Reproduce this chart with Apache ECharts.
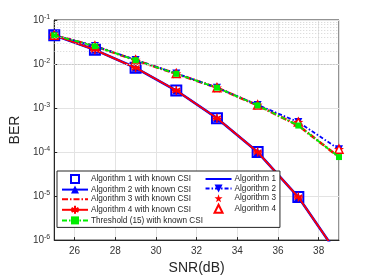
<!DOCTYPE html>
<html>
<head>
<meta charset="utf-8">
<script src="https://cdn.jsdelivr.net/npm/echarts@6/dist/echarts.min.js"></script>
<style>html,body{margin:0;padding:0;background:#fff}#c{width:374px;height:280px}</style>
</head>
<body>
<div id="c"></div>
<script>
var snr = [25, 27, 29, 31, 33, 35, 37, 39];
var knownBER = [0.045, 0.021, 0.0082, 0.0025, 5.9e-4, 1.0e-4, 9.5e-6, 4.3e-7];
var estBER = [0.045, 0.0257, 0.0124, 0.0061, 0.0029, 0.00118, 4.8e-4, 1.16e-4];
var thresholdBER = [0.045, 0.0255, 0.0122, 0.006, 0.0029, 0.00115, 4.0e-4, 7.7e-5];
var minorGrid = [];
[-2, -3, -4, -5, -6].forEach(function (e) {
  for (var m = 2; m <= 9; m++) minorGrid.push(m * Math.pow(10, e));
});
var xTicks = [26, 28, 30, 32, 34, 36, 38];

function pairs(ys) { return snr.map(function (x, i) { return [x, ys[i]]; }); }

var BLUE = '#0000ff', RED = '#ff0000', GREEN = '#00ee00';
var STAR = 'path://M0,-10L2.35,-3.24L9.51,-3.09L3.8,1.24L5.88,8.09L0,4L-5.88,8.09L-3.8,1.24L-9.51,-3.09L-2.35,-3.24Z';
var ASTER = 'path://M0,-10L0,10M-8.66,-5L8.66,5M-8.66,5L8.66,-5M-10,0L10,0';
var NOSYM = 'path://M0,0L0.01,0L0.01,0.01Z';

var chart = echarts.init(document.getElementById('c'), null, {renderer: 'canvas'});
var font = 'Liberation Sans, Arial, sans-serif';

function S(name, data, o) {
  var sym = o.symbol || NOSYM;
  return {
    name: name, type: 'line', data: pairs(data), clip: true,
    symbol: sym, symbolSize: o.symbol ? (o.size || 8) : 0.01, symbolRotate: o.rot || 0,
    showSymbol: !!o.symbol,
    lineStyle: {color: o.color, width: o.lw === undefined ? 1.8 : o.lw, type: o.type || 'solid'},
    itemStyle: {color: o.symbol ? (o.fill || o.color) : 'rgba(0,0,0,0)', borderColor: o.color, borderWidth: o.symbol ? (o.bw || 0) : 0},
    emphasis: {disabled: true}, animation: false, z: o.z || 2
  };
}

var series = [
  S('Algorithm 1 with known CSI', knownBER, {color: BLUE, symbol: 'rect', size: 10, fill: 'rgba(0,0,0,0)', bw: 2, lw: 0}),
  S('Algorithm 2 with known CSI', knownBER, {color: BLUE, symbol: 'triangle', size: 8, lw: 2.6}),
  S('Algorithm 3 with known CSI', thresholdBER, {color: RED, type: [6, 2, 1.5, 2], lw: 2.6}),
  S('Algorithm 4 with known CSI', knownBER, {color: RED, symbol: ASTER, size: 9, bw: 1.5, lw: 1.8, z: 3}),
  S('Threshold (15) with known CSI', thresholdBER, {color: GREEN, symbol: 'rect', size: 6, type: [5, 2, 1.5, 2], lw: 1.8, z: 4}),
  S('Algorithm 1', knownBER, {color: BLUE, lw: 1.4}),
  S('Algorithm 2', estBER, {color: BLUE, symbol: 'triangle', rot: 180, size: 8, type: [4, 2, 1.5, 2], lw: 1.8}),
  S('Algorithm 3', estBER, {color: RED, symbol: STAR, size: 10, lw: 0}),
  S('Algorithm 4', estBER, {color: RED, symbol: 'triangle', size: 8, fill: '#ffffff', bw: 1.5, lw: 0})
];
series.push({
  type: 'line', data: [], silent: true, animation: false,
  markLine: {
    silent: true, symbol: 'none', animation: false, label: {show: false},
    lineStyle: {color: '#c8c8c8', type: [1, 2], width: 0.8},
    data: minorGrid.map(function (v) { return {yAxis: v}; })
  }
});

chart.setOption({
  backgroundColor: '#fff',
  animation: false,
  grid: {left: 48, right: 35, top: 20, bottom: 34, show: true, borderColor: '#262626', borderWidth: 1, backgroundColor: 'transparent'},
  xAxis: {
    type: 'value', min: 25, max: 39, splitNumber: 7,
    axisLine: {show: true, lineStyle: {color: '#262626'}},
    axisTick: {show: true, inside: true, length: 3, lineStyle: {color: '#262626'}},
    axisLabel: {
      color: '#333', fontSize: 10, fontFamily: font, margin: 6,
      showMinLabel: false, showMaxLabel: false,
      formatter: function (v) { return xTicks.indexOf(v) >= 0 ? String(v) : ''; }
    },
    splitLine: {show: true, lineStyle: {color: '#e3e3e3', width: 1}},
    name: 'SNR(dB)', nameLocation: 'middle', nameGap: 20,
    nameTextStyle: {fontSize: 14, color: '#262626', fontFamily: font}
  },
  yAxis: {
    type: 'log', logBase: 10, min: 1e-6, max: 0.1,
    axisLine: {show: true, lineStyle: {color: '#262626'}},
    axisTick: {show: true, inside: true, length: 3, lineStyle: {color: '#262626'}},
    axisLabel: {
      color: '#333', fontFamily: font, margin: 4,
      formatter: function (v) {
        var e = Math.round(Math.log10(v));
        return '{b|10}{s|' + e + '}';
      },
      rich: {
        b: {fontSize: 10, fontFamily: font, color: '#333'},
        s: {fontSize: 7, fontFamily: font, color: '#333', verticalAlign: 'top', padding: [0, 0, 6, 0]}
      }
    },
    splitLine: {show: true, lineStyle: {color: '#e3e3e3', width: 1}},
    name: 'BER', nameLocation: 'middle', nameGap: 24, nameRotate: 90,
    nameTextStyle: {fontSize: 14, color: '#262626', fontFamily: font}
  },
  legend: {
    orient: 'vertical', left: 57, top: 171, height: 56,
    padding: [3, 4, 3, 4], itemGap: 1.6, itemWidth: 26, itemHeight: 10,
    backgroundColor: '#fff', borderColor: '#262626', borderWidth: 1,
    textStyle: {fontSize: 8.2, color: '#262626', fontFamily: font, padding: [0, 0, 0, -2]},
    data: series.slice(0, 9).map(function (s) { return s.name; })
  },
  series: series
});
</script>
</body>
</html>
